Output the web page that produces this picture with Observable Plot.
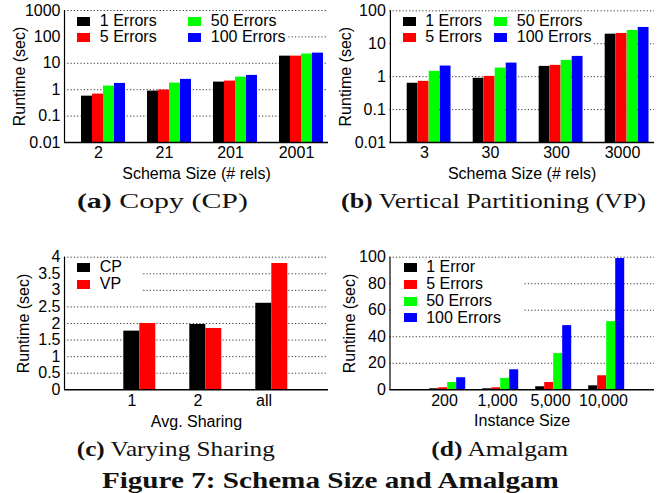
<!DOCTYPE html>
<html>
<head>
<meta charset="utf-8">
<script src="https://cdn.jsdelivr.net/npm/d3@7"></script>
<script src="https://cdn.jsdelivr.net/npm/@observablehq/plot@0.6"></script>
<style>
html, body { margin: 0; padding: 0; background: #fff; }
#fig { position: relative; width: 663px; height: 493px; overflow: hidden; font-family: "Liberation Sans", Arial, sans-serif; }
.panel { position: absolute; }
.panel svg { display: block; }
.legend { position: absolute; background: #fff; }
.sw { position: absolute; width: 13px; height: 9px; }
.lt { position: absolute; font-size: 16px; line-height: 16px; white-space: nowrap; color: #000; }
#captions { position: absolute; left: 0; top: 0; pointer-events: none; }
</style>
</head>
<body>
<div id="fig"></div>
<script>
// ---------- data ----------
const errorSeries = ["1 Errors", "5 Errors", "50 Errors", "100 Errors"];
const amalgamSeries = ["1 Error", "5 Errors", "50 Errors", "100 Errors"];
const seriesColors = ["#000000", "#ff0000", "#00ff00", "#0000ff"];

// (a) Copy (CP)
const cpSizes = ["2", "21", "201", "2001"];
const cp1 = [0.57, 0.885, 1.94, 18.7];
const cp5 = [0.68, 0.97, 2.12, 18.7];
const cp50 = [1.37, 1.78, 3.0, 22.4];
const cp100 = [1.73, 2.46, 3.48, 24.3];
const cpTicks = [0.01, 0.1, 1, 10, 100, 1000];

// (b) Vertical Partitioning (VP)
const vpSizes = ["3", "30", "300", "3000"];
const vp1 = [0.63, 0.89, 2.05, 19.5];
const vp5 = [0.72, 1.02, 2.2, 20.5];
const vp50 = [1.45, 1.82, 3.12, 25.3];
const vp100 = [2.1, 2.58, 4.12, 31.2];
const vpTicks = [0.01, 0.1, 1, 10, 100];

// (c) Varying Sharing
const sharingCats = ["1", "2", "all"];
const sharingSeries = ["CP", "VP"];
const sharingCP = [1.77, 1.97, 2.61];
const sharingVP = [2.0, 1.85, 3.81];
const sharingTicks = [0, 0.5, 1, 1.5, 2, 2.5, 3, 3.5, 4];

// (d) Amalgam
const instSizes = ["200", "1,000", "5,000", "10,000"];
const am1 = [0.76, 0.76, 2.3, 3.0];
const am5 = [1.5, 1.5, 5.5, 10.6];
const am50 = [5.5, 8.6, 27.3, 51.4];
const am100 = [9.1, 15.1, 48.4, 99.0];
const amTicks = [0, 20, 40, 60, 80, 100];

// ---------- drawing ----------
const fig = document.getElementById("fig");

function groupedBars(cfg) {
  const step = (cfg.xRange[1] - cfg.xRange[0]) / cfg.cats.length;
  const marks = [];
  marks.push(Plot.gridY({ticks: cfg.ticks.slice(1), stroke: "#222", strokeOpacity: 0.9, strokeWidth: 1, strokeDasharray: "1.2,2.1"}));
  cfg.series.forEach((s, i) => {
    const rows = cfg.cats.map((c, j) => ({cat: c, value: s.values[j], series: s.name}));
    marks.push(Plot.barY(rows, {
      x: "cat", y1: () => cfg.base, y2: "value", fill: s.color,
      insetLeft: cfg.groupOffset + i * cfg.barW,
      insetRight: step - cfg.groupOffset - (i + 1) * cfg.barW
    }));
  });
  marks.push(Plot.ruleY([cfg.base], {stroke: "#000", strokeWidth: 1.4}));
  marks.push(Plot.ruleX([cfg.cats[0]], {x: d => d, dx: cfg.marginLeft - (cfg.xRange[0] + step / 2), stroke: "#000", strokeWidth: 1.2}));
  marks.push(Plot.axisY({
    ticks: cfg.ticks, tickFormat: d => String(d), tickSize: 0, tickPadding: 4,
    label: "Runtime (sec)", labelAnchor: "center", labelOffset: cfg.yLabelOffset, labelArrow: "none"
  }));
  marks.push(Plot.axisX({
    tickSize: 0, tickPadding: 4.5, dx: cfg.tickDx,
    label: cfg.xLabel, labelAnchor: "center", labelOffset: cfg.xLabelOffset, labelArrow: "none"
  }));
  const svg = Plot.plot({
    width: cfg.width, height: cfg.height,
    marginLeft: cfg.marginLeft, marginRight: cfg.marginRight,
    marginTop: cfg.marginTop, marginBottom: cfg.marginBottom,
    x: {type: "band", domain: cfg.cats, range: cfg.xRange, padding: 0},
    y: {type: cfg.yType, domain: cfg.yDomain},
    style: {fontFamily: "'Liberation Sans', Arial, sans-serif", fontSize: "16px", color: "#000", background: "transparent", overflow: "visible"},
    marks
  });
  const wrap = document.createElement("div");
  wrap.className = "panel";
  wrap.style.left = cfg.left + "px";
  wrap.style.top = cfg.top + "px";
  wrap.appendChild(svg);
  fig.appendChild(wrap);
}

function legend(box, items) {
  const div = document.createElement("div");
  div.className = "legend";
  div.style.left = box.x + "px";
  div.style.top = box.y + "px";
  div.style.width = box.w + "px";
  div.style.height = box.h + "px";
  items.forEach(it => {
    const sw = document.createElement("div");
    sw.className = "sw";
    sw.style.left = (it.x - box.x) + "px";
    sw.style.top = (it.cy - box.y - 4.5) + "px";
    sw.style.background = it.color;
    div.appendChild(sw);
    const t = document.createElement("div");
    t.className = "lt";
    t.style.left = (it.x - box.x + 22.5) + "px";
    t.style.top = (it.cy - box.y - 8) + "px";
    t.textContent = it.name;
    div.appendChild(t);
  });
  fig.appendChild(div);
}

// (a)
groupedBars({
  left: 0, top: 0, width: 331, height: 186,
  marginLeft: 64, marginRight: 3, marginTop: 10, marginBottom: 44,
  cats: cpSizes, xRange: [64, 328], groupOffset: 17, barW: 11, tickDx: 1,
  series: [cp1, cp5, cp50, cp100].map((v, i) => ({name: errorSeries[i], color: seriesColors[i], values: v})),
  yType: "log", yDomain: [0.01, 1000], ticks: cpTicks, base: 0.01,
  xLabel: "Schema Size (# rels)", xLabelOffset: 36.5, yLabelOffset: 51
});
// (b)
groupedBars({
  left: 331, top: 0, width: 332, height: 186,
  marginLeft: 58.3, marginRight: 9, marginTop: 10.3, marginBottom: 44,
  cats: vpSizes, xRange: [58.3, 323], groupOffset: 16.7, barW: 11, tickDx: 1,
  series: [vp1, vp5, vp50, vp100].map((v, i) => ({name: errorSeries[i], color: seriesColors[i], values: v})),
  yType: "log", yDomain: [0.01, 100], ticks: vpTicks, base: 0.01,
  xLabel: "Schema Size (# rels)", xLabelOffset: 36, yLabelOffset: 50
});
// (c)
groupedBars({
  left: 0, top: 240, width: 331, height: 196,
  marginLeft: 64, marginRight: 3, marginTop: 16.7, marginBottom: 46.7,
  cats: sharingCats, xRange: [97, 295], groupOffset: 26.3, barW: 16, tickDx: 1.5,
  series: [sharingCP, sharingVP].map((v, i) => ({name: sharingSeries[i], color: seriesColors[i], values: v})),
  yType: "linear", yDomain: [0, 4], ticks: sharingTicks, base: 0,
  xLabel: "Avg. Sharing", xLabelOffset: 37.4, yLabelOffset: 47
});
// (d)
groupedBars({
  left: 331, top: 240, width: 332, height: 196,
  marginLeft: 58.3, marginRight: 9, marginTop: 16.7, marginBottom: 46.7,
  cats: instSizes, xRange: [84.8, 296.8], groupOffset: 13.2, barW: 9, tickDx: 1.5,
  series: [am1, am5, am50, am100].map((v, i) => ({name: amalgamSeries[i], color: seriesColors[i], values: v})),
  yType: "linear", yDomain: [0, 100], ticks: amTicks, base: 0,
  xLabel: "Instance Size", xLabelOffset: 36.4, yLabelOffset: 46.6
});

// legends (inside plot frames, opaque)
legend({x: 66, y: 13, w: 222, h: 33}, [
  {name: errorSeries[0], color: seriesColors[0], x: 77.3, cy: 21.4},
  {name: errorSeries[1], color: seriesColors[1], x: 77.3, cy: 37.2},
  {name: errorSeries[2], color: seriesColors[2], x: 188.3, cy: 21.4},
  {name: errorSeries[3], color: seriesColors[3], x: 188.3, cy: 37.2}
]);
legend({x: 391, y: 13, w: 202, h: 33}, [
  {name: errorSeries[0], color: seriesColors[0], x: 402.7, cy: 21.4},
  {name: errorSeries[1], color: seriesColors[1], x: 402.7, cy: 37.2},
  {name: errorSeries[2], color: seriesColors[2], x: 494.3, cy: 21.4},
  {name: errorSeries[3], color: seriesColors[3], x: 494.3, cy: 37.2}
]);
legend({x: 66, y: 259, w: 75, h: 34}, [
  {name: sharingSeries[0], color: seriesColors[0], x: 77.3, cy: 267.3},
  {name: sharingSeries[1], color: seriesColors[1], x: 77.3, cy: 284}
]);
legend({x: 391, y: 259, w: 133, h: 67}, amalgamSeries.map((n, i) => ({name: n, color: seriesColors[i], x: 403.7, cy: [267.3, 284, 301.3, 317.7][i]})));

// captions
const NS = "http://www.w3.org/2000/svg";
const cap = document.createElementNS(NS, "svg");
cap.setAttribute("id", "captions");
cap.setAttribute("width", 663);
cap.setAttribute("height", 493);
function caption(x, y, len, size, parts) {
  const t = document.createElementNS(NS, "text");
  t.setAttribute("x", x);
  t.setAttribute("y", y);
  t.setAttribute("text-anchor", "middle");
  t.setAttribute("textLength", len);
  t.setAttribute("lengthAdjust", "spacingAndGlyphs");
  t.setAttribute("font-family", "'Liberation Serif', 'DejaVu Serif', serif");
  t.setAttribute("font-size", size);
  t.setAttribute("fill", "#111");
  parts.forEach(([txt, bold]) => {
    const s = document.createElementNS(NS, "tspan");
    if (bold) s.setAttribute("font-weight", "bold");
    s.textContent = txt;
    t.appendChild(s);
  });
  cap.appendChild(t);
}
caption(162.4, 208.4, 171, 21, [["(a)", true], [" Copy (CP)", false]]);
caption(493.5, 208.4, 305, 21, [["(b)", true], [" Vertical Partitioning (VP)", false]]);
caption(175.8, 455.5, 198, 21, [["(c)", true], [" Varying Sharing", false]]);
caption(499.7, 455.5, 137, 21, [["(d)", true], [" Amalgam", false]]);
caption(330.4, 488, 457, 24, [["Figure 7: Schema Size and Amalgam", true]]);
fig.appendChild(cap);
</script>
</body>
</html>
